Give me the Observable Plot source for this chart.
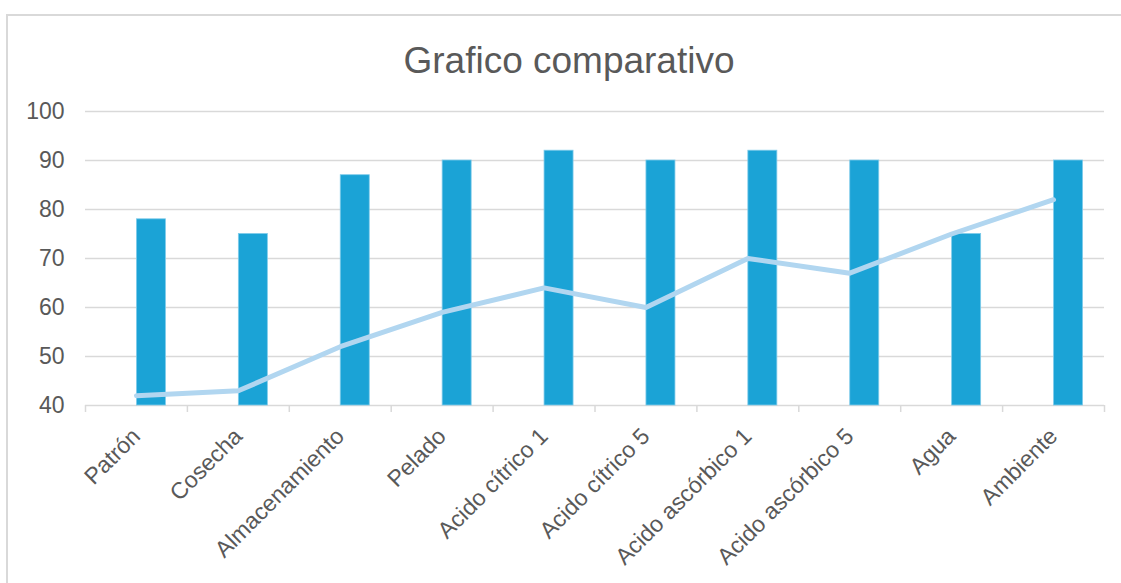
<!DOCTYPE html>
<html>
<head>
<meta charset="utf-8">
<script src="https://cdn.jsdelivr.net/npm/d3@7"></script>
<script src="https://cdn.jsdelivr.net/npm/@observablehq/plot@0.6"></script>
<style>
  html, body { margin: 0; padding: 0; background: #fff; }
  #wrap { position: relative; width: 1121px; height: 583px; overflow: hidden; font-family: "Liberation Sans", Arial, sans-serif; }
  #frame { position: absolute; left: 6px; top: 14px; width: 1200px; height: 700px; border-left: 2px solid #d9d9d9; border-top: 2px solid #d9d9d9; box-sizing: border-box; }
  #title { position: absolute; left: 0; top: 42px; width: 1138px; text-align: center; font-size: 37px; color: #595959; line-height: 1; }
  #chart { position: absolute; left: 0; top: 0; }
</style>
</head>
<body>
<div id="wrap">
  <div id="frame"></div>
  <div id="title">Grafico comparativo</div>
  <div id="chart"></div>
</div>
<script>
const categories = ["Patrón", "Cosecha", "Almacenamiento", "Pelado", "Acido cítrico 1", "Acido cítrico 5", "Acido ascórbico 1", "Acido ascórbico 5", "Agua", "Ambiente"];
const barValues = [78, 75, 87, 90, 92, 90, 92, 90, 75, 90];
const lineValues = [42, 43, 52, 59, 64, 60, 70, 67, 75, 82];
const yTicks = [40, 50, 60, 70, 80, 90, 100];

const bars = categories.map((c, i) => ({cat: c, v: barValues[i]}));
const pts = categories.map((c, i) => ({cat: c, v: lineValues[i]}));

const W = 1121, H = 583;
const mL = 85, mR = 17, mT = 111, mB = 178;
const bw = (W - mL - mR) / categories.length;

const plot = Plot.plot({
  width: W,
  height: H,
  marginLeft: mL,
  marginRight: mR,
  marginTop: mT,
  marginBottom: mB,
  style: {background: "transparent", fontFamily: "'Liberation Sans', Arial, sans-serif", color: "#595959"},
  x: {domain: categories, padding: 0, round: false, label: null},
  y: {domain: [40, 100], ticks: yTicks, label: null},
  marks: [
    Plot.gridY(yTicks, {stroke: "#d9d9d9", strokeOpacity: 1, strokeWidth: 1.5}),
    Plot.barY(bars, {x: "cat", y1: 40, y2: "v", fill: "#1ba3d6", stroke: "#7fcbea", strokeWidth: 0.8, insetLeft: bw / 2 + 0.5, insetRight: bw / 2 - 29.5}),
    Plot.line(pts, {x: "cat", y: "v", stroke: "#b1d6f0", strokeWidth: 5, strokeLinecap: "round", strokeLinejoin: "round"}),
    Plot.axisY({ticks: yTicks, tickSize: 0, tickPadding: 21, fontSize: 23, fill: "#595959", label: null}),
    Plot.axisX({tickSize: 7, dx: -bw / 2, text: null, stroke: "#d9d9d9", strokeWidth: 1.5, label: null, tickPadding: 0}),
    Plot.axisX({ticks: [categories[categories.length - 1]], tickSize: 7, dx: bw / 2, text: null, stroke: "#d9d9d9", strokeWidth: 1.5, label: null}),
    Plot.axisX({tickSize: 0, tickRotate: -45, tickPadding: 27, dx: 0, fontSize: 23, fill: "#595959", label: null})
  ]
});
document.getElementById("chart").appendChild(plot);
</script>
</body>
</html>
